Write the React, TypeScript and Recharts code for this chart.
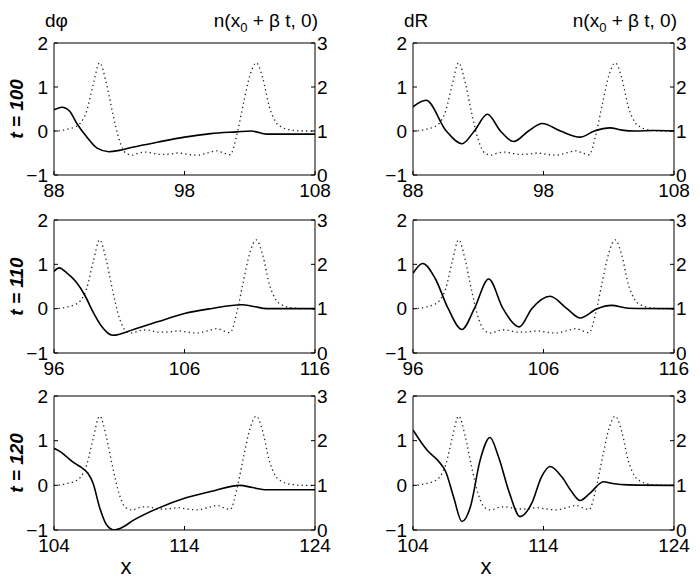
import { Line, LineChart, XAxis, YAxis } from "recharts";

// n(x0 + beta t, 0): same profile in every panel, offset from the panel's left edge
const densityOffset = [
  0, 0.5, 1, 1.5, 2, 2.5, 3, 3.5, 4, 4.5, 5, 5.5, 6, 6.5, 7, 7.5, 8, 8.5, 9, 9.5, 10,
  10.5, 11, 11.5, 12, 12.5, 13, 13.5, 14, 14.5, 15, 15.5, 16, 16.5, 17, 17.5, 18, 18.5, 19, 19.5, 20,
];
const densityValues = [
  1.0, 1.01, 1.04, 1.08, 1.17, 1.45, 2.05, 2.55, 2.1, 1.4, 0.8, 0.5, 0.45, 0.5, 0.52, 0.5, 0.47, 0.47, 0.48, 0.5, 0.48,
  0.46, 0.45, 0.48, 0.52, 0.55, 0.5, 0.46, 0.9, 1.6, 2.25, 2.55, 2.2, 1.55, 1.2, 1.08, 1.03, 1.01, 1.0, 1.0, 0.98,
];

const panelStarts = [88, 96, 104];
const timeLabels = ["t = 100", "t = 110", "t = 120"];

// dphi
const phi100X = [88, 88.6, 89.2, 89.75, 90.5, 91.3, 92.2, 93, 94, 96, 98, 100, 102, 103.1, 104.3, 105.5, 108];
const phi100Y = [0.48, 0.54, 0.45, 0.17, -0.13, -0.39, -0.47, -0.44, -0.37, -0.25, -0.14, -0.06, -0.02, 0, -0.07, -0.07, -0.07];
const phi110X = [96, 96.4, 97, 97.7, 98.4, 99, 99.6, 100.5, 102.1, 104, 106, 108, 110.4, 111.3, 112.3, 116];
const phi110Y = [0.84, 0.92, 0.8, 0.6, 0.28, -0.08, -0.38, -0.6, -0.47, -0.29, -0.11, 0, 0.09, 0.05, 0, 0];
const phi120X = [104, 104.5, 105, 105.6, 106.1, 106.6, 107, 107.5, 108, 108.6, 109.1, 110.1, 112, 114, 116, 118.25, 119.2, 120.3, 124];
const phi120Y = [0.83, 0.75, 0.63, 0.49, 0.4, 0.27, 0.04, -0.5, -0.87, -1.0, -0.96, -0.78, -0.51, -0.29, -0.14, 0, -0.05, -0.1, -0.1];

// dR
const dR100X = [88, 89, 90.55, 91.75, 92.7, 93.7, 94.7, 95.7, 96.85, 97.9, 99.3, 100.8, 101.9, 103.1, 104, 105, 106.5, 108];
const dR100Y = [0.55, 0.7, 0, -0.29, 0, 0.38, 0, -0.24, 0, 0.17, 0, -0.14, 0, 0.07, 0.02, 0, 0.01, 0];
const dR110X = [96, 96.75, 97.7, 98.7, 99.75, 100.7, 101.8, 102.9, 104.15, 105.1, 106.5, 107.8, 108.8, 110.1, 111.2, 112.5, 116];
const dR110Y = [0.8, 1.02, 0.68, 0, -0.47, 0, 0.67, 0, -0.41, 0, 0.28, 0, -0.21, 0, 0.075, 0.01, 0];
const dR120X = [104, 105.07, 106.1, 106.5, 107.1, 107.75, 108.4, 109.15, 109.9, 110.55, 111.4, 112.2, 113.1, 113.85, 114.5, 115.4, 116.15, 116.8, 117.55, 118.6, 119.3, 120.5, 124];
const dR120Y = [1.24, 0.79, 0.49, 0.31, -0.25, -0.81, -0.48, 0.57, 1.07, 0.64, -0.18, -0.7, -0.4, 0.19, 0.42, 0.19, -0.14, -0.34, -0.18, 0.08, 0.04, 0.01, 0];

const FONT = "'Liberation Sans', Arial, Helvetica, sans-serif";
const PLOT_W = 261;
const colLeft = [54, 413];
const rowTop = [43, 220, 396];
const rowHeight = [132, 133, 134];

const toPoints = (xs: number[], ys: number[]) => xs.map((x, i) => ({ x, y: ys[i] }));
const minus = (v: number) => (v < 0 ? `\u2212${-v}` : `${v}`);

const phiSeries = [toPoints(phi100X, phi100Y), toPoints(phi110X, phi110Y), toPoints(phi120X, phi120Y)];
const dRSeries = [toPoints(dR100X, dR100Y), toPoints(dR110X, dR110Y), toPoints(dR120X, dR120Y)];

type PanelProps = { left: number; top: number; height: number; start: number; solid: { x: number; y: number }[] };

function Panel({ left, top, height, start, solid }: PanelProps) {
  const density = densityOffset.map((d, i) => ({ x: start + d, y: densityValues[i] }));
  const ticks = [start, start + 10, start + 20];
  const tickStyle = { fill: "#000", fontSize: 19, fontFamily: FONT };
  return (
    <div style={{ position: "absolute", left: left - 54, top: top - 10 }}>
      <LineChart width={54 + PLOT_W + 26} height={10 + height + 30} margin={{ top: 9, right: 0, bottom: 0, left: 0 }}>
        <XAxis
          xAxisId="bottom"
          dataKey="x"
          type="number"
          domain={[start, start + 20]}
          ticks={ticks}
          interval={0}
          allowDataOverflow
          height={30}
          stroke="#000"
          tickSize={-4}
          tickMargin={13}
          tick={tickStyle}
        />
        <XAxis
          xAxisId="top"
          orientation="top"
          dataKey="x"
          type="number"
          domain={[start, start + 20]}
          ticks={ticks}
          interval={0}
          allowDataOverflow
          height={1}
          stroke="#000"
          tickSize={-4}
          tick={false}
        />
        <YAxis
          yAxisId="left"
          domain={[-1, 2]}
          ticks={[-1, 0, 1, 2]}
          interval={0}
          allowDataOverflow
          width={54}
          stroke="#000"
          tickSize={-4}
          tickMargin={10}
          tick={tickStyle}
          tickFormatter={minus}
        />
        <YAxis
          yAxisId="right"
          orientation="right"
          domain={[0, 3]}
          ticks={[0, 1, 2, 3]}
          interval={0}
          allowDataOverflow
          width={26}
          stroke="#000"
          tickSize={-4}
          tickMargin={6}
          tick={tickStyle}
        />
        <Line
          xAxisId="top"
          yAxisId="right"
          data={density}
          dataKey="y"
          type="monotone"
          dot={false}
          stroke="#222"
          strokeWidth={1.3}
          strokeDasharray="1.3 3.2"
          isAnimationActive={false}
        />
        <Line
          xAxisId="bottom"
          yAxisId="left"
          data={solid}
          dataKey="y"
          type="monotone"
          dot={false}
          stroke="#000"
          strokeWidth={1.6}
          isAnimationActive={false}
        />
      </LineChart>
    </div>
  );
}

function DensityTitle({ x }: { x: number }) {
  return (
    <text x={x} y={27} textAnchor="end" fontSize={19}>
      n(x
      <tspan dy={5} fontSize={13}>0</tspan>
      <tspan dy={-5}> + β t, 0)</tspan>
    </text>
  );
}

export default function App() {
  return (
    <div style={{ position: "absolute", left: 0, top: 0, width: 700, height: 582, background: "#fff", overflow: "hidden" }}>
      {panelStarts.map((start, r) => (
        <Panel key={`phi${r}`} left={colLeft[0]} top={rowTop[r]} height={rowHeight[r]} start={start} solid={phiSeries[r]} />
      ))}
      {panelStarts.map((start, r) => (
        <Panel key={`dR${r}`} left={colLeft[1]} top={rowTop[r]} height={rowHeight[r]} start={start} solid={dRSeries[r]} />
      ))}
      <svg width={700} height={582} style={{ position: "absolute", left: 0, top: 0, pointerEvents: "none" }} fontFamily={FONT}>
        <text x={45} y={27} fontSize={19}>dφ</text>
        <DensityTitle x={318} />
        <text x={404} y={27} fontSize={19}>dR</text>
        <DensityTitle x={677} />
        {timeLabels.map((label, r) => {
          const cy = rowTop[r] + rowHeight[r] / 2;
          return (
            <text
              key={label}
              x={16}
              y={cy}
              transform={`rotate(-90 16 ${cy})`}
              textAnchor="middle"
              dominantBaseline="central"
              fontSize={19}
              fontWeight="bold"
              fontStyle="italic"
            >
              {label}
            </text>
          );
        })}
        <text x={126} y={574} textAnchor="middle" fontSize={22}>x</text>
        <text x={486} y={574} textAnchor="middle" fontSize={22}>x</text>
      </svg>
    </div>
  );
}
